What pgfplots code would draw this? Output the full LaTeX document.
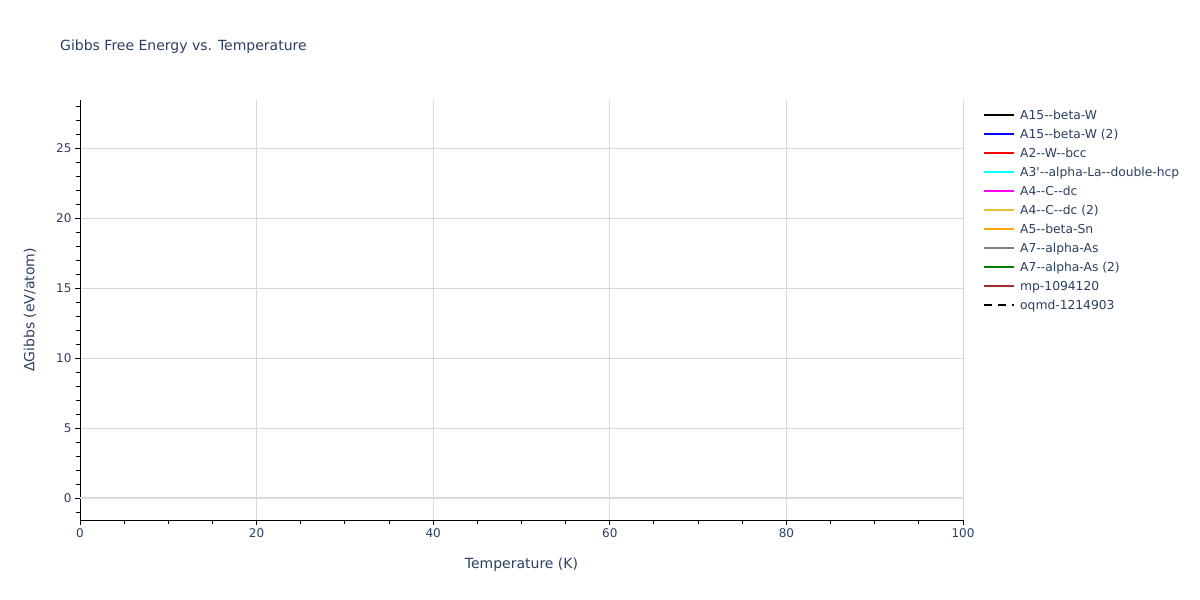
\documentclass[border=0pt]{standalone}
\usepackage{fontspec}
\setmainfont{DejaVu Sans}
\usepackage{pgfplots}
\pgfplotsset{compat=1.18}
\definecolor{txt}{HTML}{2A3F5F}
\definecolor{gridc}{HTML}{D9D9D9}
\definecolor{c1}{RGB}{0,0,0}
\definecolor{c2}{RGB}{0,0,255}
\definecolor{c3}{RGB}{255,0,0}
\definecolor{c4}{RGB}{0,255,255}
\definecolor{c5}{RGB}{255,0,255}
\definecolor{c6}{RGB}{232,192,56}
\definecolor{c7}{RGB}{255,165,0}
\definecolor{c8}{RGB}{128,128,128}
\definecolor{c9}{RGB}{0,128,0}
\definecolor{c10}{RGB}{165,42,42}

\begin{document}
\begin{tikzpicture}[x=1pt,y=1pt]
\useasboundingbox (0,0) rectangle (1200,600);
\node[anchor=west, text=txt, font=\fontsize{14}{17}\selectfont, inner sep=0pt] at (60,553) {Gibbs Free Energy vs. Temperature};
\begin{axis}[
    at={(80pt,80pt)}, anchor=south west,
    width=883pt, height=420pt, scale only axis,
    xmin=0, xmax=100, ymin=-1.57, ymax=28.43,
    axis x line*=bottom, axis y line*=left,
    axis line style={black, line width=1pt, -},
    xtick={0,20,...,100}, ytick={0,5,...,25},
    minor xtick={0,5,...,100}, minor ytick={-1,0,...,28},
    xmajorgrids, ymajorgrids,
    major grid style={gridc, line width=1pt},
    tick align=outside, major tick length=5pt, minor tick length=4pt,
    tick style={black, line width=1pt},
    /pgf/number format/assume math mode=true,
    ticklabel style={text=txt, font=\fontsize{12}{14}\selectfont},
    xlabel={Temperature (K)}, ylabel={ΔGibbs (eV/atom)},
    label style={text=txt, font=\fontsize{14}{17}\selectfont},
    xlabel style={at={(axis description cs:0.5,-0.107)}, anchor=center},
    ylabel style={at={(axis description cs:-0.0566,0.5)}, anchor=center},
    clip=false,
    legend cell align=left,
    legend style={draw=none, fill=none, at={(1,1)}, anchor=north west,
        xshift=20pt, yshift=-10pt, inner sep=0pt, row sep=7pt,
        font=\fontsize{12.3}{14}\selectfont, text=txt,
        nodes={text height=9pt, text depth=3pt, inner sep=0pt},
        /tikz/every odd column/.append style={column sep=5pt}},
    legend image code/.code={\draw[#1, line width=2pt] (0pt,1.5pt) -- (30pt,1.5pt);},
]
\draw[gridc, line width=2pt] (axis cs:0,0) -- (axis cs:100,0);
\addlegendimage{c1}
\addlegendentry{A15-{}-beta-W}
\addlegendimage{c2}
\addlegendentry{A15-{}-beta-W (2)}
\addlegendimage{c3}
\addlegendentry{A2-{}-W-{}-bcc}
\addlegendimage{c4}
\addlegendentry{A3\textquotesingle-{}-alpha-La-{}-double-hcp}
\addlegendimage{c5}
\addlegendentry{A4-{}-C-{}-dc}
\addlegendimage{c6}
\addlegendentry{A4-{}-C-{}-dc (2)}
\addlegendimage{c7}
\addlegendentry{A5-{}-beta-Sn}
\addlegendimage{c8}
\addlegendentry{A7-{}-alpha-As}
\addlegendimage{c9}
\addlegendentry{A7-{}-alpha-As (2)}
\addlegendimage{c10}
\addlegendentry{mp-1094120}
\addlegendimage{c1, dash pattern=on 8pt off 6pt}
\addlegendentry{oqmd-1214903}
\end{axis}
\end{tikzpicture}
\end{document}
